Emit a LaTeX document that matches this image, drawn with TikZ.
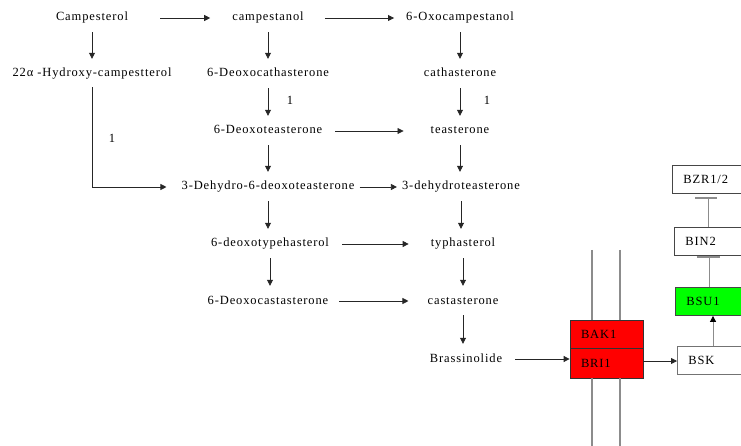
\documentclass[tikz,border=0pt]{standalone}
\usepackage{fontspec}
\setmainfont{Liberation Serif}[LetterSpace=7]
\usetikzlibrary{arrows.meta}
\definecolor{mred}{RGB}{255,0,0}
\definecolor{mgreen}{RGB}{0,255,0}
\definecolor{edge}{RGB}{70,70,70}
\definecolor{memb}{RGB}{140,140,140}
\begin{document}
\begin{tikzpicture}[x=1pt,y=-1pt,
  every node/.style={font=\fontsize{12.5}{14}\selectfont},
  lab/.style={inner sep=0pt, text height=9pt, text depth=3pt},
  arr/.style={-{Triangle[length=6pt,width=6pt]}, line width=0.8pt, draw=black!85},
  vert/.style={arr, shorten <=8pt, shorten >=9pt},
  gbox/.style={draw=edge, line width=0.8pt, rectangle, minimum height=28pt, text width=58pt, inner xsep=11pt, inner ysep=0pt, align=left, anchor=west},
  inh/.style={line width=1pt, draw=memb},
  bar/.style={line width=2pt, draw=memb},
  membl/.style={line width=1.4pt, draw=memb}
]
\useasboundingbox (0,0) rectangle (741,446);
\clip (0,0) rectangle (741,446);

% column 1
\node[lab] (campesterol) at (92,18) {Campesterol};
\node[lab] (hydroxy) at (92,74) {22α -Hydroxy-campestterol};
% column 2
\node[lab] (campestanol) at (268,18) {campestanol};
\node[lab] (deoxocath) at (268,74) {6-Deoxocathasterone};
\node[lab] (deoxotea) at (268,131) {6-Deoxoteasterone};
\node[lab] (dehydro) at (268,187) {3-Dehydro-6-deoxoteasterone};
\node[lab] (deoxotyp) at (270,244) {6-deoxotypehasterol};
\node[lab] (deoxocas) at (268,301) {6-Deoxocastasterone};
% column 3
\node[lab] (oxocamp) at (460,18) {6-Oxocampestanol};
\node[lab] (cath) at (460,74) {cathasterone};
\node[lab] (tea) at (460,131) {teasterone};
\node[lab] (dehydrotea) at (461,187) {3-dehydroteasterone};
\node[lab] (typh) at (463,244) {typhasterol};
\node[lab] (cas) at (463,301) {castasterone};
\node[lab] (brass) at (466,359) {Brassinolide};

% labels
\node[lab] (one1) at (112,140) {1};
\node[lab] (one2) at (290,102) {1};
\node[lab] (one3) at (487,102) {1};

% horizontal arrows
\draw[arr, shorten <=32pt, shorten >=22pt] (campesterol.east) -- (campesterol.east -| campestanol.west);
\draw[arr, shorten <=21pt, shorten >=12pt] (campestanol.east) -- (campestanol.east -| oxocamp.west);
\draw[arr, shorten <=13pt, shorten >=27pt] (deoxotea.east) -- (deoxotea.east -| tea.west);
\draw[arr, shorten <=5pt, shorten >=5pt] (dehydro.east) -- (dehydro.east -| dehydrotea.west);
\draw[arr, shorten <=13pt, shorten >=22pt] (deoxotyp.east) -- (deoxotyp.east -| typh.west);
\draw[arr, shorten <=11pt, shorten >=19pt] (deoxocas.east) -- (deoxocas.east -| cas.west);

% vertical arrows
\draw[vert] (campesterol.south) -- (campesterol.south |- hydroxy.north);
\draw[vert] (campestanol.south) -- (campestanol.south |- deoxocath.north);
\draw[vert] (deoxocath.south) -- (deoxocath.south |- deoxotea.north);
\draw[vert] (deoxotea.south) -- (deoxotea.south |- dehydro.north);
\draw[vert] (dehydro.south) -- (dehydro.south |- deoxotyp.north);
\draw[vert] (deoxotyp.south) -- (deoxotyp.south |- deoxocas.north);
\draw[vert] (oxocamp.south) -- (oxocamp.south |- cath.north);
\draw[vert] (cath.south) -- (cath.south |- tea.north);
\draw[vert] (tea.south) -- (tea.south |- dehydrotea.north);
\draw[vert] (dehydrotea.south) -- (dehydrotea.south |- typh.north);
\draw[vert] (typh.south) -- (typh.south |- cas.north);
\draw[vert] (cas.south) -- (cas.south |- brass.north);

% L-shaped connector
\draw[arr, shorten <=7pt, shorten >=15pt] (hydroxy.south) |- (dehydro.west);

% membrane
\coordinate (m1t) at (592,250);
\coordinate (m2t) at (620,250);
\coordinate (m1b) at (592,446);
\coordinate (m2b) at (620,446);
\node[draw=black!80, line width=0.8pt, fill=mred, minimum width=73pt, minimum height=28pt, text width=51pt, inner xsep=11pt, inner ysep=0pt, align=left] (bak) at (606.5,334) {BAK1};
\node[draw=black!80, line width=0.8pt, fill=mred, minimum width=73pt, minimum height=30pt, text width=51pt, inner xsep=11pt, inner ysep=0pt, align=left] (bri) at (606.5,363) {BRI1};
\draw[membl] (m1t) -- (m1t |- bak.north);
\draw[membl] (m2t) -- (m2t |- bak.north);
\draw[membl] (m1b) -- (m1b |- bri.south);
\draw[membl] (m2b) -- (m2b |- bri.south);

% right-side boxes
\node[gbox, draw=black!55] (bsk) at (677,360) {BSK};
\node[gbox, fill=mgreen] (bsu) at (675,301.5) {BSU1};
\node[gbox] (bin) at (674,241.5) {BIN2};
\node[gbox] (bzr) at (672,179) {BZR1/2};

\draw[arr, shorten <=13pt] (brass.east) -- (brass.east -| bri.west);
\draw[arr] (bri.east) ++(0,-2) coordinate (brio) -- (brio -| bsk.west);
\draw[line width=0.8pt, draw=memb, -{Triangle[length=6pt,width=6pt,fill=black,color=black]}] ([xshift=36pt]bsk.north west) -- ([xshift=36pt]bsk.north west |- bsu.south);

\coordinate (t1) at ([xshift=34pt,yshift=-1pt]bin.south west);
\draw[inh] ([xshift=34pt]bsu.north west) -- ([xshift=34pt]bsu.north west |- t1);
\draw[bar] ([xshift=-11.5pt]t1) -- ([xshift=11.5pt]t1);
\coordinate (t2) at ([xshift=34pt,yshift=-5pt]bzr.south west);
\draw[inh] ([xshift=34pt]bin.north west) -- ([xshift=34pt]bin.north west |- t2);
\draw[bar] ([xshift=-11pt]t2) -- ([xshift=11pt]t2);
\end{tikzpicture}
\end{document}
